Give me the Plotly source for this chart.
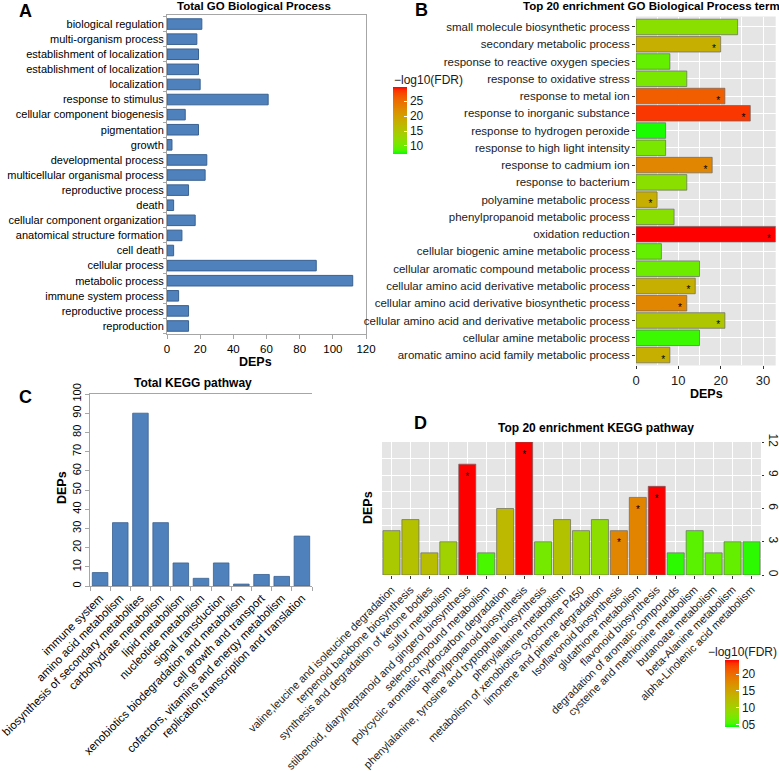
import plotly.graph_objects as go

W, H = 779, 771
def X(px):
    return px / W
def Y(py):
    return 1 - py / H

# ---------------- Panel A: Total GO Biological Process ----------------
go_labels = ["biological regulation", "multi-organism process", "establishment of localization",
             "establishment of localization", "localization", "response to stimulus",
             "cellular component biogenesis", "pigmentation", "growth", "developmental process",
             "multicellular organismal process", "reproductive process", "death",
             "cellular component organization", "anatomical structure formation", "cell death",
             "cellular process", "metabolic process", "immune system process",
             "reproductive process", "reproduction"]
go_counts = [21, 18, 19, 19, 20, 61, 11, 19, 3, 24, 23, 13, 4, 17, 9, 4, 90, 112, 7, 13, 13]
go_pos = list(range(len(go_labels)))

# ---------------- Panel B: Top 20 enrichment GO BP term ----------------
b_terms = ["small molecule biosynthetic process", "secondary metabolic process",
           "response to reactive oxygen species", "response to oxidative stress",
           "response to metal ion", "response to inorganic substance",
           "response to hydrogen peroxide", "response to high light intensity",
           "response to cadmium ion", "response to bacterium", "polyamine metabolic process",
           "phenylpropanoid metabolic process", "oxidation reduction",
           "cellular biogenic amine metabolic process", "cellular aromatic compound metabolic process",
           "cellular amino acid derivative metabolic process",
           "cellular amino acid derivative biosynthetic process",
           "cellular amino acid and derivative metabolic process",
           "cellular amine metabolic process", "aromatic amino acid family metabolic process"]
b_deps = [24, 20, 8, 12, 21, 27, 7, 7, 18, 12, 5, 9, 33, 6, 15, 14, 12, 21, 15, 8]
b_fdr = [11.8, 18.1, 9.5, 10.7, 26.2, 28.5, 7.7, 10.7, 22.6, 11.8, 18.1, 11.6, 29.8,
         9.5, 10.0, 18.1, 22.6, 15.2, 8.2, 18.1]
b_sig = [0, 1, 0, 0, 1, 1, 0, 0, 1, 0, 1, 0, 1, 0, 0, 1, 1, 1, 0, 1]

# ---------------- Panel C: Total KEGG pathway ----------------
kegg_classes = ["immune system", "amino acid metabolism", "biosynthesis of secondary metabolites",
                "carbohydrate metabolism", "lipid metabolism", "nucleotide metabolism",
                "signal transduction", "xenobiotics biodegradation and metabolism",
                "cell growth and transport", "cofactors, vitamins and energy metabolism",
                "replication,transcription and translation"]
kegg_counts = [7, 33, 90, 33, 12, 4, 12, 1, 6, 5, 26]

# ---------------- Panel D: Top 20 enrichment KEGG pathway ----------------
d_paths = ["valine,leucine and isoleucine degradation", "terpenoid backbone biosynthesis",
           "synthesis and degradation of ketone bodies", "sulfur metabolism",
           "stilbenoid, diarylheptanoid and gingerol biosynthesis", "selenocompound metabolism",
           "polycyclic aromatic hydrocarbon degradation", "phenylpropanoid biosynthesis",
           "phenylalanine, tyrosine and tryptophan biosynthesis", "phenylalanine metabolism",
           "metabolism of xenobiotics cytochrome P450", "limonene and pinene degradation",
           "Isoflavonoid biosynthesis", "glutathione metabolism", "flavonoid biosynthesis",
           "degradation of aromatic compounds", "cysteine and methionine metabolism",
           "butanoate metabolism", "beta-Alanine metabolism", "alpha-Linolenic acid metabolism"]
d_deps = [4, 5, 2, 3, 10, 2, 6, 12, 3, 5, 4, 5, 4, 7, 8, 2, 4, 2, 3, 3]
d_fdr = [10.8, 11.8, 12.2, 9.8, 24.2, 5.2, 12.6, 24.2, 7.0, 11.6, 9.0, 8.4, 17.8, 18.0,
         24.2, 4.8, 5.8, 6.2, 6.2, 4.8]
d_sig = [0, 0, 0, 0, 1, 0, 0, 1, 0, 0, 0, 0, 1, 1, 1, 0, 0, 0, 0, 0]

# ---------------- colour scale (green -> red, Lab interpolation) ----------------
def lab_to_hex(L, a, b):
    fy = (L + 16) / 116
    fx = fy + a / 500
    fz = fy - b / 200
    def finv(t):
        return t ** 3 if t ** 3 > 0.008856 else (t - 16 / 116) / 7.787
    Xv, Yv, Zv = 0.95047 * finv(fx), finv(fy), 1.08883 * finv(fz)
    r = 3.2406 * Xv - 1.5372 * Yv - 0.4986 * Zv
    g = -0.9689 * Xv + 1.8758 * Yv + 0.0415 * Zv
    bb = 0.0557 * Xv - 0.2040 * Yv + 1.0570 * Zv
    def gam(c):
        c = 12.92 * c if c <= 0.0031308 else 1.055 * max(c, 0) ** (1 / 2.4) - 0.055
        return int(round(min(max(c, 0), 1) * 255))
    return "rgb(%d,%d,%d)" % (gam(r), gam(g), gam(bb))

lab_green = (87.735, -86.183, 83.179)
lab_red = (53.233, 80.109, 67.220)
cscale = []
for i in range(21):
    t = i / 20
    cscale.append([t, lab_to_hex(*[g + (r - g) * t for g, r in zip(lab_green, lab_red)])])

FONT = "Liberation Sans, Arial, sans-serif"
BLUE = "#4F81BD"
FRAME = "#a6a6a6"
TXT2 = "#1a1a1a"

fig = go.Figure()

# A
fig.add_trace(go.Bar(orientation="h", x=go_counts, y=go_pos, width=0.7,
                     marker=dict(color=BLUE, line=dict(color="#3a6190", width=1)),
                     xaxis="x", yaxis="y", hoverinfo="x"))

# B
fig.add_trace(go.Bar(orientation="h", x=b_deps, y=b_terms, width=0.9,
                     marker=dict(color=b_fdr, colorscale=cscale, cmin=7.3, cmax=29.8,
                                 line=dict(color="rgba(100,100,100,0.85)", width=0.8),
                                 colorbar=dict(x=X(393), xanchor="left", xpad=0,
                                               y=Y(120.5), yanchor="middle", ypad=0,
                                               len=67, lenmode="pixels", thickness=14,
                                               outlinewidth=0, tickvals=[10, 15, 20, 25],
                                               ticks="inside", ticklen=3, tickcolor="white",
                                               tickfont=dict(size=12, color=TXT2))),
                     xaxis="x2", yaxis="y2"))
bx = [v - 1.6 for v, s in zip(b_deps, b_sig) if s]
by = [t for t, s in zip(b_terms, b_sig) if s]
fig.add_trace(go.Scatter(x=bx, y=by, mode="text", text=["*"] * len(bx),
                         textposition="bottom center",
                         textfont=dict(size=10, color="black"), xaxis="x2", yaxis="y2"))

# C
fig.add_trace(go.Bar(x=kegg_classes, y=kegg_counts, width=0.77,
                     marker=dict(color=BLUE, line=dict(color="#3a6190", width=0.8)),
                     xaxis="x3", yaxis="y3"))

# D
fig.add_trace(go.Bar(x=d_paths, y=d_deps, width=0.9,
                     marker=dict(color=d_fdr, colorscale=cscale, cmin=4.2, cmax=24.2,
                                 line=dict(color="rgba(100,100,100,0.85)", width=0.8),
                                 colorbar=dict(x=X(725), xanchor="left", xpad=0,
                                               y=Y(693.5), yanchor="middle", ypad=0,
                                               len=67, lenmode="pixels", thickness=14,
                                               outlinewidth=0, tickvals=[5, 10, 15, 20],
                                               ticktext=["05", "10", "15", "20"],
                                               ticks="inside", ticklen=3, tickcolor="white",
                                               tickfont=dict(size=12, color=TXT2))),
                     xaxis="x4", yaxis="y4"))
dx = [p for p, s in zip(d_paths, d_sig) if s]
dy = [v - 0.75 for v, s in zip(d_deps, d_sig) if s]
fig.add_trace(go.Scatter(x=dx, y=dy, mode="text", text=["*"] * len(dx),
                         textposition="bottom center",
                         textfont=dict(size=10, color="black"), xaxis="x4", yaxis="y4"))

common = dict(automargin=False)
fig.update_layout(
    width=W, height=H, margin=dict(l=0, r=0, t=0, b=0, autoexpand=False),
    paper_bgcolor="white", plot_bgcolor="white", showlegend=False,
    font=dict(family=FONT, size=11, color="black"),
    xaxis=dict(domain=[X(167), X(366)], anchor="y", range=[0, 120], dtick=20,
               ticks="outside", ticklen=4, tickcolor=FRAME, showline=True, mirror=True,
               linecolor=FRAME, showgrid=False, zeroline=False, tickfont=dict(size=11.5), **common),
    yaxis=dict(domain=[Y(334), Y(15)], anchor="x", range=[20.53, -0.6],
               tickmode="array", tickvals=go_pos, ticktext=go_labels, ticks="",
               showline=True, mirror=True, linecolor=FRAME, showgrid=False, zeroline=False,
               tickfont=dict(size=11),
               minor=dict(tickmode="array", tickvals=[i - 0.5 for i in range(len(go_labels) + 1)],
                          ticks="outside", ticklen=3, tickcolor=FRAME), **common),
    xaxis2=dict(domain=[X(636), X(775.7)], anchor="y2", range=[0, 33],
                tickvals=[0, 10, 20, 30], ticks="outside", ticklen=3, tickcolor="#333",
                showgrid=True, gridcolor="white", gridwidth=1.2, zeroline=False,
                showline=False, tickfont=dict(size=13, color=TXT2),
                minor=dict(dtick=5, tick0=0, showgrid=True, gridcolor="white", gridwidth=0.5), **common),
    yaxis2=dict(domain=[Y(365.4), Y(16.6)], anchor="x2", type="category",
                categoryorder="array", categoryarray=b_terms, range=[19.6, -0.6],
                showgrid=True, gridcolor="white", gridwidth=1.2, ticks="outside", ticklen=3,
                tickcolor="#333", zeroline=False, tickfont=dict(size=11.5, color=TXT2), **common),
    xaxis3=dict(domain=[X(90), X(312)], anchor="y3", type="category", range=[-0.5, 10.5],
                tickangle=-45, ticks="outside", tickson="boundaries", ticklen=4,
                tickcolor=FRAME, showline=True, mirror=True, linecolor=FRAME,
                showgrid=False, tickfont=dict(size=11.5), **common),
    yaxis3=dict(domain=[Y(586), Y(394)], anchor="x3", range=[0, 100], dtick=10,
                tickangle=-90, ticks="outside", ticklen=4, tickcolor=FRAME, showline=True,
                linecolor=FRAME, showgrid=False, zeroline=False, tickfont=dict(size=11), **common),
    yaxis5=dict(overlaying="y3", side="right", anchor="x3", range=[0, 100], dtick=10,
                tickangle=-90, ticks="outside", ticklen=4, tickcolor=FRAME, showline=True,
                linecolor=FRAME, showgrid=False, zeroline=False, tickfont=dict(size=11), **common),
    xaxis4=dict(domain=[X(382), X(761)], anchor="y4", type="category", range=[-0.5, 19.5],
                tickangle=-45, ticks="outside", ticklen=3, tickcolor="#333",
                showgrid=True, gridcolor="white", gridwidth=1.2,
                tickfont=dict(size=11, color=TXT2), **common),
    yaxis4=dict(domain=[Y(575), Y(442)], anchor="x4", side="right", range=[0, 12], dtick=3,
                tickangle=90, ticks="outside", ticklen=2, tickcolor="#333",
                showgrid=True, gridcolor="white", gridwidth=1.2, zeroline=False,
                tickfont=dict(size=12, color=TXT2),
                minor=dict(dtick=1.5, tick0=0, showgrid=True, gridcolor="white", gridwidth=0.5), **common),
)

# grey panels for ggplot-style plots
for ax in ["x2", "x4"]:
    yv = "y2" if ax == "x2" else "y4"
    fig.add_shape(type="rect", xref=ax + " domain", yref=yv + " domain", x0=0, x1=1, y0=0, y1=1,
                  fillcolor="#E5E5E5", line=dict(width=0), layer="below")

def ann(text, x, y, size=12, bold=True, xanchor="center", yanchor="middle", angle=0, color="black"):
    fig.add_annotation(text=("<b>%s</b>" % text) if bold else text, x=X(x), y=Y(y),
                       xref="paper", yref="paper", showarrow=False, xanchor=xanchor,
                       yanchor=yanchor, textangle=angle, font=dict(size=size, color=color))

# panel letters
ann("A", 25, 11, size=18)
ann("B", 421, 10, size=18)
ann("C", 25, 397, size=18)
ann("D", 420, 423, size=18)
# titles
ann("Total GO Biological Process", 254, 6, size=11.5)
ann("Top 20 enrichment GO Biological Process term", 651, 6, size=11.5)
ann("Total KEGG pathway", 193, 383, size=12)
ann("Top 20 enrichment KEGG pathway", 596, 428, size=12)
# axis titles
ann("DEPs", 255, 362, size=12.5)
ann("DEPs", 706, 394, size=12.5)
ann("DEPs", 62, 488, size=12.5, angle=-90)
ann("DEPs", 368, 508, size=12.5, angle=-90)
# colour bar titles
ann("\u2212log10(FDR)", 392, 80, size=12, bold=False, xanchor="left", color=TXT2)
ann("\u2212log10(FDR)", 706, 652, size=12, bold=False, xanchor="left", color=TXT2)

fig.write_html("out.html", config={"displayModeBar": False},
               post_script="document.body.style.margin='0px';document.body.style.overflow='hidden';")
